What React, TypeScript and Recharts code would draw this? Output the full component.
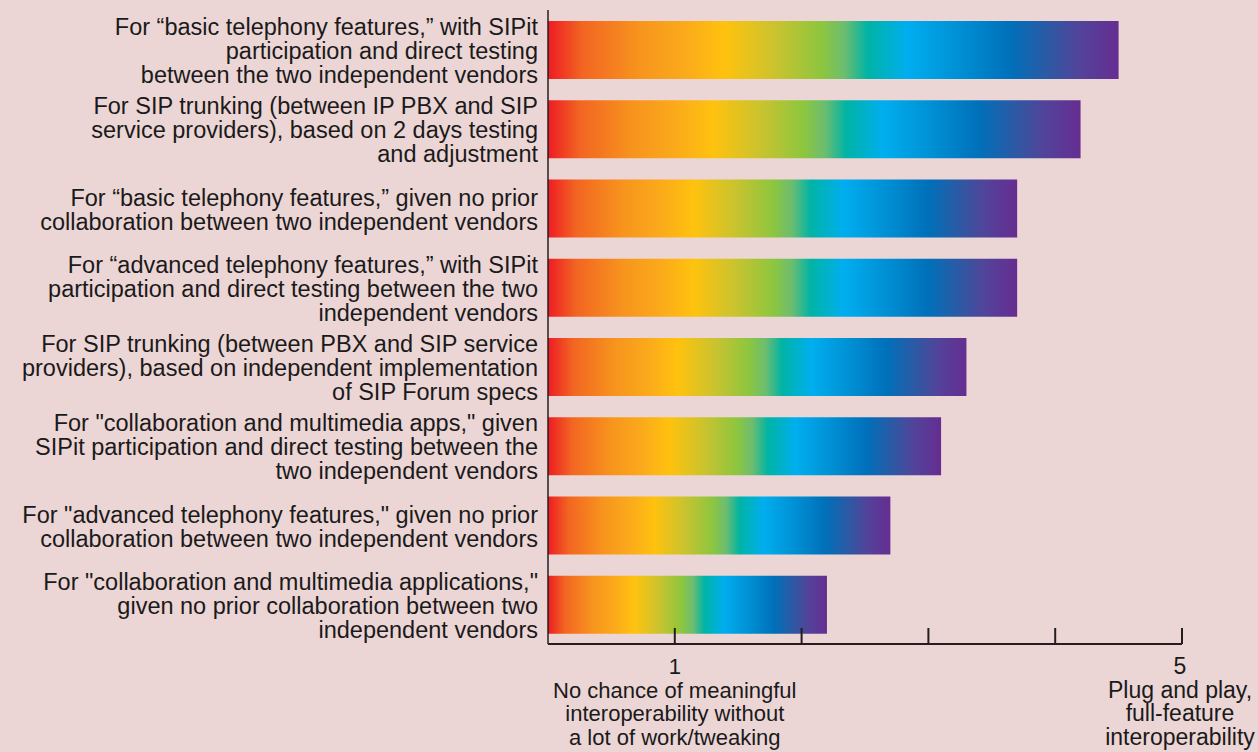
import React from 'react';
import { BarChart, Bar, XAxis, YAxis } from 'recharts';

const categories: string[] = [
  'For \u201Cbasic telephony features,\u201D with SIPit\nparticipation and direct testing\nbetween the two independent vendors',
  'For SIP trunking (between IP PBX and SIP\nservice providers), based on 2 days testing\nand adjustment',
  'For \u201Cbasic telephony features,\u201D given no prior\ncollaboration between two independent vendors',
  'For \u201Cadvanced telephony features,\u201D with SIPit\nparticipation and direct testing between the two\nindependent vendors',
  'For SIP trunking (between PBX and SIP service\nproviders), based on independent implementation\nof SIP Forum specs',
  'For "collaboration and multimedia apps," given\nSIPit participation and direct testing between the\ntwo independent vendors',
  'For "advanced telephony features," given no prior\ncollaboration between two independent vendors',
  'For "collaboration and multimedia applications,"\ngiven no prior collaboration between two\nindependent vendors',
];

const scores: number[] = [4.5, 4.2, 3.7, 3.7, 3.3, 3.1, 2.7, 2.2];

const xTicks: number[] = [0, 1, 2, 3, 4, 5];

const xTickLabels: Record<number, string[]> = {
  1: ['1', 'No chance of meaningful', 'interoperability without', 'a lot of work/tweaking'],
  5: ['5', 'Plug and play,', 'full-feature', 'interoperability'],
};

const gradientStops: [number, string][] = [
  [0, '#ED1C24'],
  [0.06, '#F26522'],
  [0.16, '#F7941D'],
  [0.24, '#FBAA1B'],
  [0.31, '#FFC20E'],
  [0.4, '#C9C32F'],
  [0.48, '#8DC63F'],
  [0.52, '#6CBD70'],
  [0.56, '#00B4A5'],
  [0.63, '#00AEEF'],
  [0.72, '#0090D4'],
  [0.81, '#0070BA'],
  [0.88, '#2F58A3'],
  [0.93, '#51449A'],
  [1, '#662D91'],
];

const data = categories.map((label, i) => ({ label, score: scores[i] }));

const FONT = '"Liberation Sans", Arial, sans-serif';
const TEXT = '#1A1A1A';
const AXIS = '#231F20';

const YTick = (props: any) => {
  const { x, y, payload } = props;
  const lines = String(payload.value).split('\n');
  const L = 24;
  const first = y - ((lines.length - 1) * L) / 2 + 9.5;
  return (
    <text x={x} y={first} textAnchor="end" fill={TEXT} fontFamily={FONT} fontSize={23.5}>
      {lines.map((ln, i) => (
        <tspan key={i} x={x} y={first + i * L}>
          {ln}
        </tspan>
      ))}
    </text>
  );
};

const XTick = (props: any) => {
  const { x, y, payload } = props;
  const v = payload.value as number;
  const lines = xTickLabels[v] || [];
  const fs = v === 5 ? 23 : 22;
  return (
    <g>
      {v !== 0 && <line x1={x} x2={x} y1={y} y2={y - 16} stroke={AXIS} strokeWidth={2} />}
      {lines.length > 0 && (
        <text x={x} textAnchor="middle" fill={TEXT} fontFamily={FONT} fontSize={fs}>
          {lines.map((ln, i) => (
            <tspan key={i} x={x - (v === 5 ? 2 : 0)} y={y + 30 + i * 23.5}>
              {ln}
            </tspan>
          ))}
        </text>
      )}
    </g>
  );
};

export default function App() {
  return (
    <div
      style={{
        position: 'absolute',
        left: 0,
        top: 0,
        width: 1258,
        height: 752,
        background: '#ECD5D5',
        overflow: 'hidden',
      }}
    >
      <BarChart
        width={1258}
        height={752}
        data={data}
        layout="vertical"
        margin={{ top: 10, right: 76, bottom: 0, left: 0 }}
      >
        <defs>
          <linearGradient id="rainbow" x1="0" y1="0" x2="1" y2="0">
            {gradientStops.map(([o, c], i) => (
              <stop key={i} offset={o} stopColor={c} />
            ))}
          </linearGradient>
        </defs>
        <XAxis
          type="number"
          domain={[0, 5]}
          ticks={xTicks}
          interval={0}
          height={108}
          tickLine={false}
          tickSize={0}
          tickMargin={0}
          axisLine={{ stroke: AXIS, strokeWidth: 2 }}
          tick={<XTick />}
        />
        <YAxis
          type="category"
          dataKey="label"
          width={548}
          interval={0}
          tickLine={false}
          tickSize={0}
          tickMargin={10}
          axisLine={{ stroke: AXIS, strokeWidth: 1.5 }}
          tick={<YTick />}
        />
        <Bar dataKey="score" barSize={58} fill="url(#rainbow)" isAnimationActive={false} />
      </BarChart>
    </div>
  );
}
